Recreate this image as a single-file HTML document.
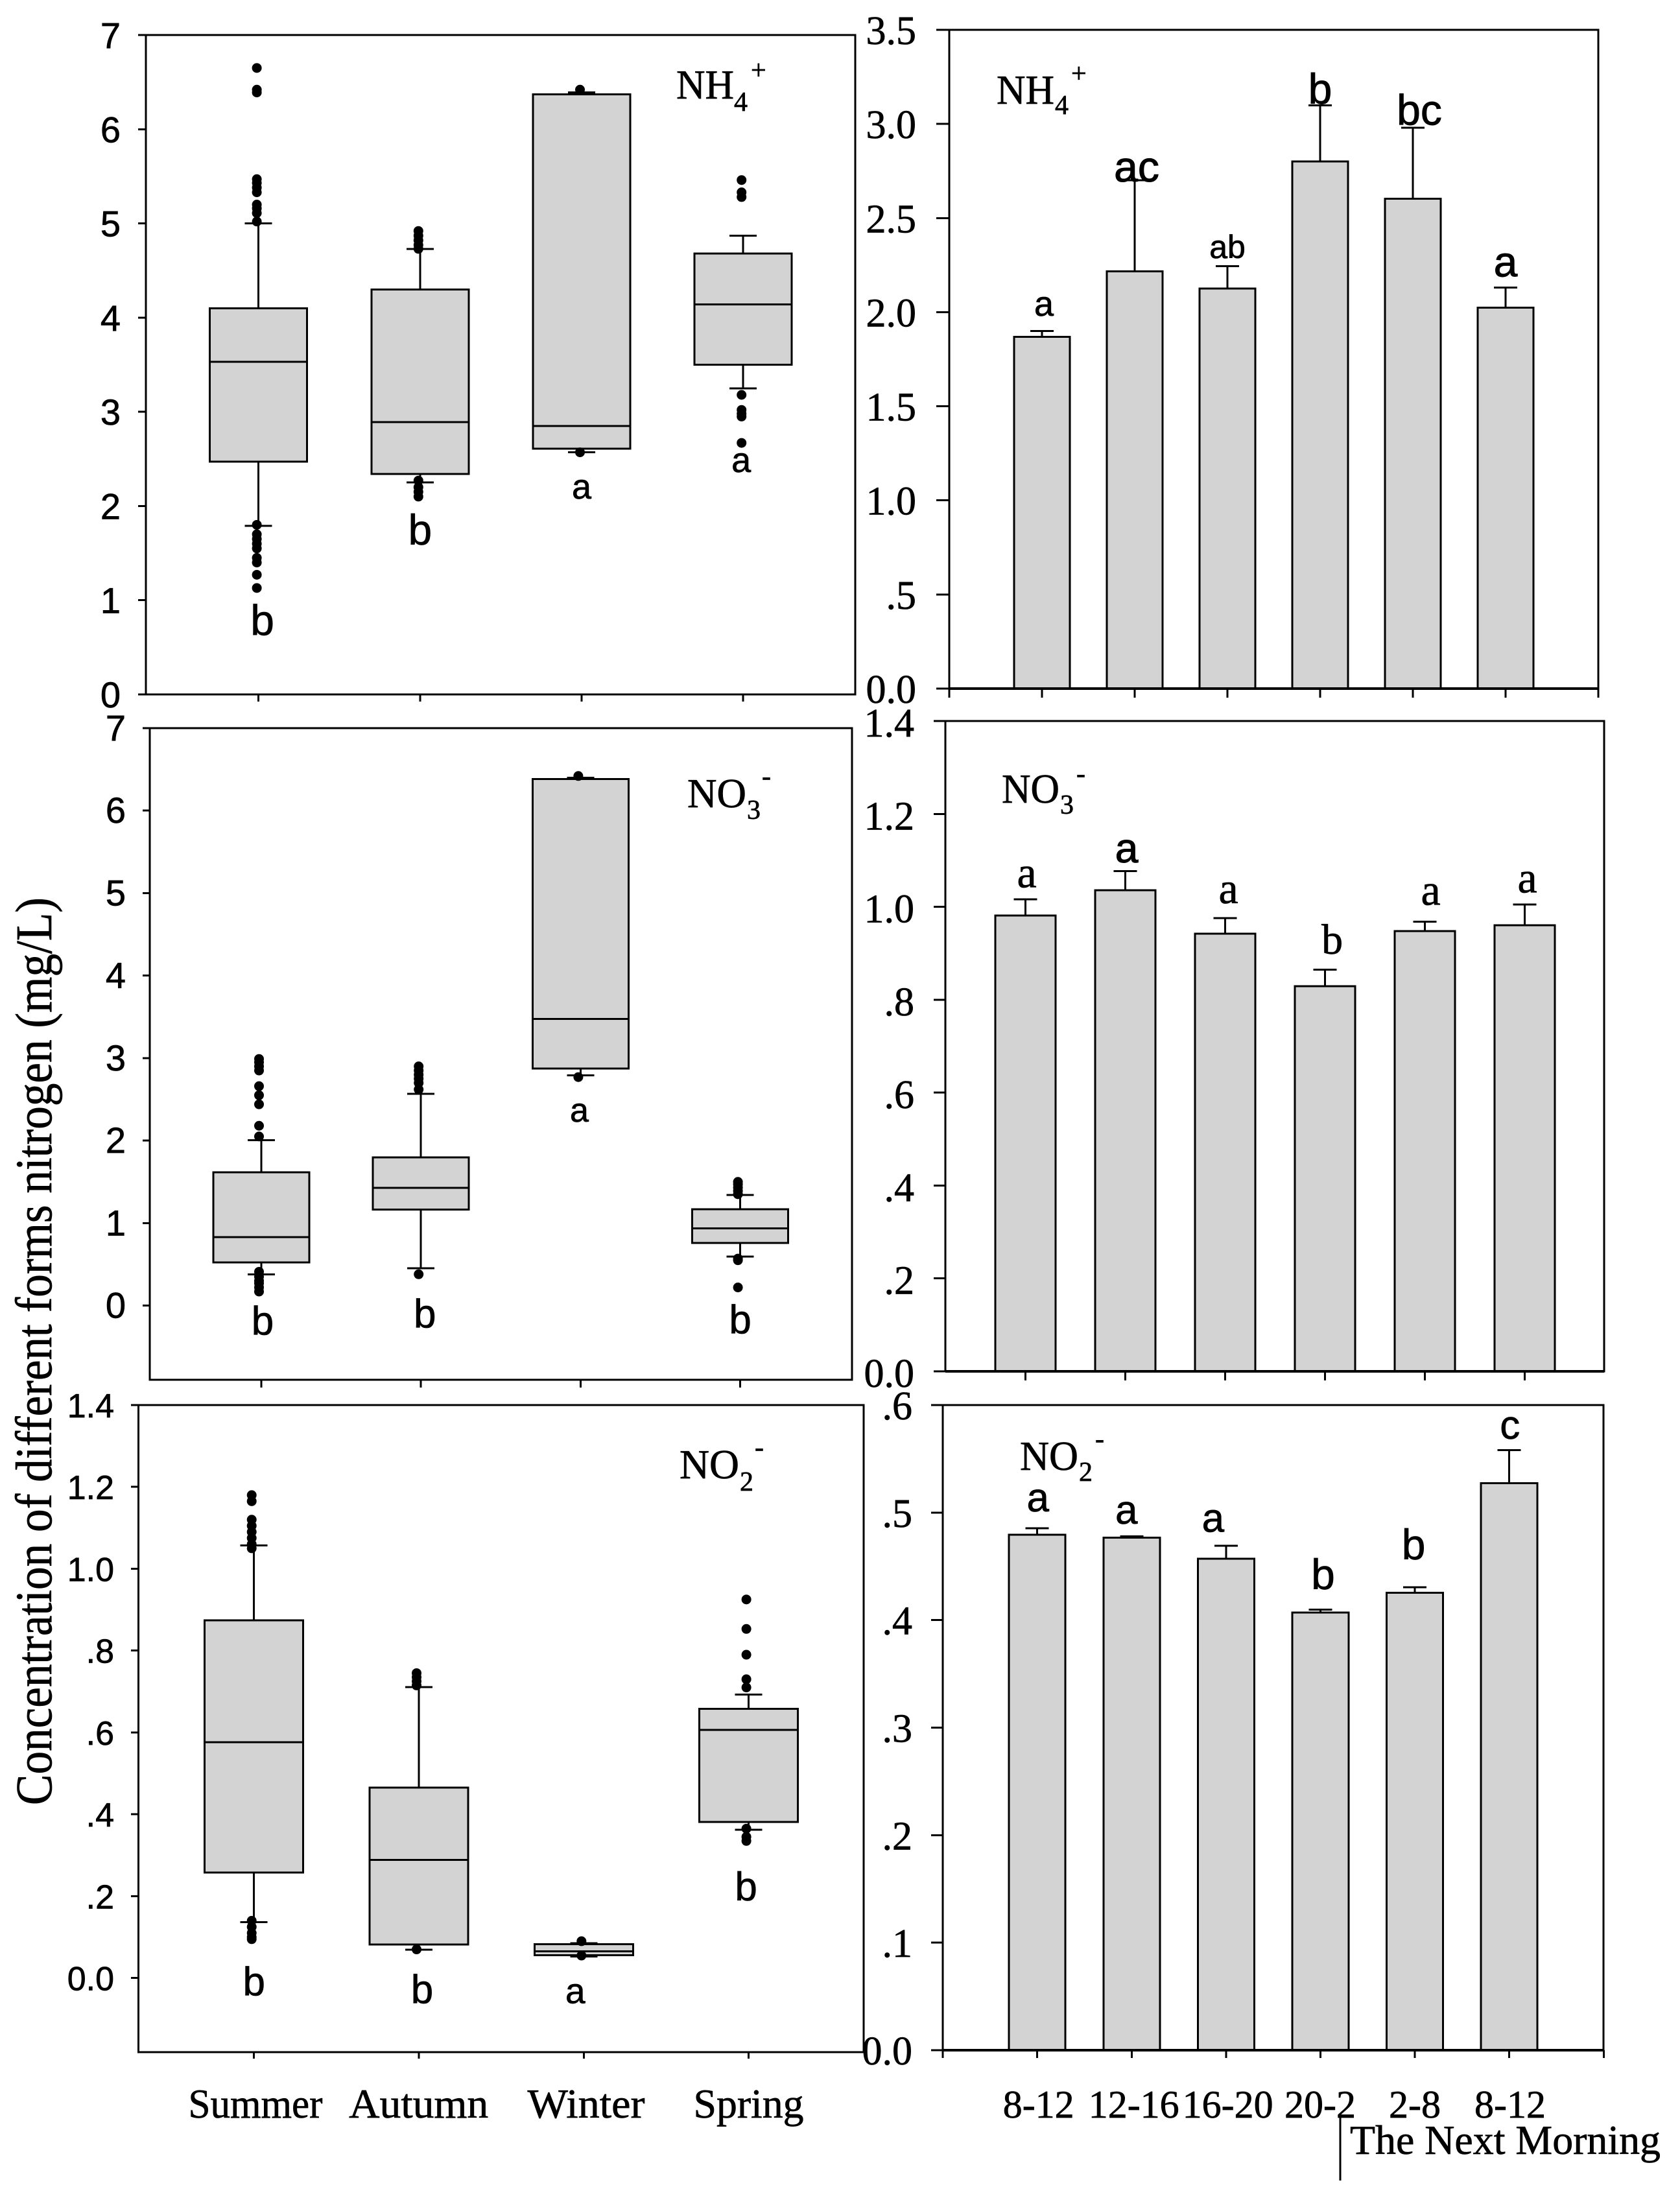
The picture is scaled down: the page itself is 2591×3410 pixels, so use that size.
<!DOCTYPE html>
<html lang="en">
<head>
<meta charset="utf-8">
<title>Concentration of different forms of nitrogen</title>
<style>
html,body{margin:0;padding:0;background:#fff;width:2591px;height:3410px;overflow:hidden}
svg{display:block}
.serif{font-family:"Liberation Serif",serif}
.sans{font-family:"Liberation Sans",sans-serif}
text{fill:#000;stroke:#000;stroke-width:0.7px}
</style>
</head>
<body>
<svg id="figure" xmlns="http://www.w3.org/2000/svg" width="2591" height="3410" viewBox="0 0 2591 3410">
<rect x="0" y="0" width="2591" height="3410" fill="#fff"/>
<text class="serif" font-size="79" transform="translate(79,2784) rotate(-90)" textLength="1400" lengthAdjust="spacingAndGlyphs">Concentration of different forms nitrogen (mg/L)</text>

<g class="serif">
<text font-size="64" x="1043" y="152" textLength="89" lengthAdjust="spacingAndGlyphs">NH</text><text font-size="42" x="1132" y="171">4</text><text font-size="42" x="1158" y="122">+</text>
</g>
<g class="serif">
<text font-size="64" x="1537" y="160" textLength="89" lengthAdjust="spacingAndGlyphs">NH</text><text font-size="42" x="1627" y="176">4</text><text font-size="42" x="1652" y="127">+</text>
</g>
<g class="serif">
<text font-size="64" x="1060" y="1245" textLength="91" lengthAdjust="spacingAndGlyphs">NO</text><text font-size="42" x="1152" y="1263">3</text><text font-size="42" x="1175" y="1211">-</text>
</g>
<g class="serif">
<text font-size="64" x="1545" y="1238" textLength="89" lengthAdjust="spacingAndGlyphs">NO</text><text font-size="42" x="1635" y="1255">3</text><text font-size="42" x="1660" y="1207">-</text>
</g>
<g class="serif">
<text font-size="64" x="1048" y="2280" textLength="92" lengthAdjust="spacingAndGlyphs">NO</text><text font-size="42" x="1141" y="2299">2</text><text font-size="42" x="1164" y="2246">-</text>
</g>
<g class="serif">
<text font-size="64" x="1573" y="2267" textLength="90" lengthAdjust="spacingAndGlyphs">NO</text><text font-size="42" x="1664" y="2284">2</text><text font-size="42" x="1689" y="2233">-</text>
</g>

<line x1="2067" y1="3264" x2="2067" y2="3363" stroke="#000" stroke-width="3"/>
<text class="serif" font-size="64" x="2082" y="3322" textLength="479" lengthAdjust="spacingAndGlyphs">The Next Morning</text>
</svg>

<script>
// ---------- categories and tick labels ----------
const seasons = ['Summer', 'Autumn', 'Winter', 'Spring'];
const hourWindows = ['8-12', '12-16', '16-20', '20-2', '2-8', '8-12'];

const seasonTicksNH4 = [0, 1, 2, 3, 4, 5, 6, 7];
const seasonTickLabelsNH4 = ['0', '1', '2', '3', '4', '5', '6', '7'];
const seasonTicksNO3 = [0, 1, 2, 3, 4, 5, 6, 7];
const seasonTickLabelsNO3 = ['0', '1', '2', '3', '4', '5', '6', '7'];
const seasonTicksNO2 = [0, 0.2, 0.4, 0.6, 0.8, 1.0, 1.2, 1.4];
const seasonTickLabelsNO2 = ['0.0', '.2', '.4', '.6', '.8', '1.0', '1.2', '1.4'];
const hourTicksNH4 = [0, 0.5, 1, 1.5, 2, 2.5, 3, 3.5];
const hourTickLabelsNH4 = ['0.0', '.5', '1.0', '1.5', '2.0', '2.5', '3.0', '3.5'];
const hourTicksNO3 = [0, 0.2, 0.4, 0.6, 0.8, 1.0, 1.2, 1.4];
const hourTickLabelsNO3 = ['0.0', '.2', '.4', '.6', '.8', '1.0', '1.2', '1.4'];
const hourTicksNO2 = [0, 0.1, 0.2, 0.3, 0.4, 0.5, 0.6];
const hourTickLabelsNO2 = ['0.0', '.1', '.2', '.3', '.4', '.5', '.6'];

// ---------- NH4 by season ----------
const nh4Q1 = [2.47, 2.34, 2.61, 3.50];
const nh4Median = [3.53, 2.89, 2.85, 4.14];
const nh4Q3 = [4.10, 4.30, 6.37, 4.68];
const nh4WhiskerLow = [1.79, 2.25, 2.57, 3.25];
const nh4WhiskerHigh = [5.00, 4.73, 6.39, 4.87];
const nh4OutliersSummer = [6.65, 6.42, 6.39, 5.47, 5.43, 5.38, 5.33, 5.2, 5.16, 5.11, 5.02, 1.8, 1.7, 1.65, 1.6, 1.55, 1.45, 1.4, 1.27, 1.13];
const nh4OutliersAutumn = [4.92, 4.87, 4.82, 4.77, 4.73, 2.27, 2.2, 2.15, 2.1];
const nh4OutliersWinter = [6.42, 2.57];
const nh4OutliersSpring = [5.46, 5.33, 5.28, 3.18, 3.02, 2.98, 2.95, 2.67];
const nh4SeasonLetters = ['b', 'b', 'a', 'a'];
const nh4SeasonLetterAt = [0.63, 1.59, 2.08, 2.36];

// ---------- NO3 by season ----------
const no3Q1 = [0.524, 1.163, 2.872, 0.761];
const no3Median = [0.832, 1.428, 3.473, 0.937];
const no3Q3 = [1.615, 1.797, 6.384, 1.169];
const no3WhiskerLow = [0.38, 0.452, 2.79, 0.595];
const no3WhiskerHigh = [2.007, 2.569, 6.40, 1.34];
const no3OutliersSummer = [2.99, 2.95, 2.9, 2.85, 2.66, 2.55, 2.44, 2.18, 2.05, 0.41, 0.35, 0.3, 0.27, 0.22, 0.17];
const no3OutliersAutumn = [2.9, 2.85, 2.8, 2.75, 2.7, 2.62, 0.38];
const no3OutliersWinter = [6.42, 2.77];
const no3OutliersSpring = [1.5, 1.47, 1.43, 1.39, 1.35, 0.57, 0.55, 0.22];
const no3SeasonLetters = ['b', 'b', 'a', 'b'];
const no3SeasonLetterAt = [-0.354, -0.267, 2.23, -0.338];

// ---------- NO2 by season ----------
const no2Q1 = [0.258, 0.082, 0.056, 0.381];
const no2Median = [0.576, 0.289, 0.065, 0.606];
const no2Q3 = [0.874, 0.465, 0.083, 0.658];
const no2WhiskerLow = [0.137, 0.069, 0.053, 0.362];
const no2WhiskerHigh = [1.057, 0.711, 0.085, 0.693];
const no2OutliersSummer = [1.18, 1.165, 1.12, 1.105, 1.09, 1.075, 1.06, 1.05, 0.14, 0.125, 0.11, 0.1, 0.095];
const no2OutliersAutumn = [0.745, 0.735, 0.725, 0.715, 0.07];
const no2OutliersWinter = [0.09, 0.055];
const no2OutliersSpring = [0.925, 0.853, 0.79, 0.73, 0.71, 0.365, 0.345, 0.335];
const no2SeasonLetters = ['b', 'b', 'a', 'b'];
const no2SeasonLetterAt = [-0.042, -0.061, -0.061, 0.19];

// ---------- hourly means ----------
const nh4HourMeans = [1.868, 2.216, 2.125, 2.80, 2.603, 2.024];
const nh4HourErrorTop = [1.90, 2.70, 2.244, 3.098, 2.98, 2.13];
const nh4HourLetters = ['a', 'ac', 'ab', 'b', 'bc', 'a'];
const nh4HourLetterAt = [1.981, 2.694, 2.287, 3.108, 2.995, 2.189];

const no3HourMeans = [0.981, 1.036, 0.942, 0.829, 0.948, 0.960];
const no3HourErrorTop = [1.016, 1.077, 0.976, 0.8645, 0.968, 1.005];
const no3HourLetters = ['a', 'a', 'a', 'b', 'a', 'a'];
const no3HourLetterAt = [1.0417, 1.096, 1.008, 0.899, 1.004, 1.031];

const no2HourMeans = [0.4795, 0.4766, 0.457, 0.407, 0.4253, 0.5273];
const no2HourErrorTop = [0.4854, 0.478, 0.469, 0.4097, 0.4307, 0.558];
const no2HourLetters = ['a', 'a', 'a', 'b', 'b', 'c'];
const no2HourLetterAt = [0.501, 0.4895, 0.482, 0.4286, 0.4564, 0.5685];

// ---------- rendering ----------
const SVG_NS = 'http://www.w3.org/2000/svg';
const figure = document.getElementById('figure');

function make(tag, parent, props) {
  const el = document.createElementNS(SVG_NS, tag);
  for (const key in props) el.setAttribute(key, props[key]);
  parent.appendChild(el);
  return el;
}
function segment(parent, x1, y1, x2, y2, width) {
  return make('line', parent, { x1: x1, y1: y1, x2: x2, y2: y2, stroke: '#000', 'stroke-width': width || 3, 'shape-rendering': 'crispEdges' });
}
function label(parent, str, x, y, size, family, anchor) {
  const el = make('text', parent, { x: x, y: y, 'font-size': size, 'text-anchor': anchor || 'middle', class: family });
  el.textContent = str;
  return el;
}

function panelGroup(p) {
  const g = make('g', figure, {});
  
  
  return g;
}
function yScale(p) {
  return function (v) { return p.bottom - (v - p.yMin) / (p.yMax - p.yMin) * (p.bottom - p.top); };
}
function xScale(p) {
  return function (i) { return p.xFirst + i * p.xStep; };
}

function drawFrame(g, p, ticks, tickLabels, xTickCount, xTickStart) {
  const y = yScale(p), x = xScale(p);
  const frame = make('rect', g, { x: p.left, y: p.top, width: p.right - p.left, height: p.bottom - p.top, fill: 'none', stroke: '#000', 'stroke-width': 3, 'shape-rendering': 'crispEdges' });
  
  
  ticks.forEach(function (t, i) {
    const tick = segment(g, p.tickLeft, y(t), p.left, y(t));
    
    
    const text = label(g, tickLabels[i], p.labelRight, y(t) + p.labelDrop, p.labelSize, p.labelFamily, 'end');
    
    
  });
  for (let i = 0; i < xTickCount; i++) {
    const tx = x(i + xTickStart);
    const tick = segment(g, tx, p.bottom, tx, p.tickBottom);
    
    
  }
}

function drawLetters(g, p, letters, at) {
  const y = yScale(p), x = xScale(p);
  letters.forEach(function (str, i) {
    const s = p.letters[i];
    const text = label(g, str, x(i) + s.dx, y(at[i]), s.size, s.family || 'sans');
    if (s.heavy) { text.style.strokeWidth = s.heavy + 'px'; }
    
    
  });
}

function drawBoxes(p, d) {
  const g = panelGroup(p);
  const y = yScale(p), x = xScale(p);
  drawFrame(g, p, d.ticks, d.tickLabels, d.q1.length, 0);
  d.q1.forEach(function (_, i) {
    const cx = x(i);
    const low = segment(g, cx, y(d.q1[i]), cx, y(d.low[i]));
    
    
    const high = segment(g, cx, y(d.q3[i]), cx, y(d.high[i]));
    
    
    const lowCap = segment(g, cx - 21, y(d.low[i]), cx + 21, y(d.low[i]));
    
    
    const highCap = segment(g, cx - 21, y(d.high[i]), cx + 21, y(d.high[i]));
    
    
    const box = make('rect', g, { x: cx - p.boxWidth / 2, y: y(d.q3[i]), width: p.boxWidth, height: y(d.q1[i]) - y(d.q3[i]), fill: '#d3d3d3', stroke: '#000', 'stroke-width': 3, 'shape-rendering': 'crispEdges' });
    
    
    const med = segment(g, cx - p.boxWidth / 2, y(d.median[i]), cx + p.boxWidth / 2, y(d.median[i]));
    
    
    d.outliers[i].forEach(function (v) {
      const dot = make('circle', g, { cx: cx + p.dotDx, cy: y(v), r: 7.5, fill: '#000' });
      
      
    });
  });
  drawLetters(g, p, d.letters, d.letterAt);
}

function drawBars(p, d) {
  const g = panelGroup(p);
  const y = yScale(p), x = xScale(p);
  const extra = p.endTicks ? 2 : 0;
  drawFrame(g, p, d.ticks, d.tickLabels, d.means.length + extra, p.endTicks ? -1 : 0);
  d.means.forEach(function (v, i) {
    const cx = x(i);
    const err = segment(g, cx, y(v), cx, y(d.errorTop[i]));
    
    
    const cap = segment(g, cx - 18, y(d.errorTop[i]), cx + 18, y(d.errorTop[i]));
    
    
    const bar = make('rect', g, { x: cx - p.barWidth / 2, y: y(v), width: p.barWidth, height: y(0) - y(v), fill: '#d3d3d3', stroke: '#000', 'stroke-width': 3, 'shape-rendering': 'crispEdges' });
    
    
  });
  const base = segment(g, p.left, p.bottom, p.right, p.bottom, 4);
  
  
  drawLetters(g, p, d.letters, d.letterAt);
  return g;
}

function L(size, dx, family, heavy) { return { size: size, dx: dx, family: family, heavy: heavy }; }

drawBoxes({
  name: 'nh4-season-panel', left: 225, right: 1319, top: 54, bottom: 1071, yMin: 0, yMax: 7,
  xFirst: 398.6, xStep: 249.2, boxWidth: 150, dotDx: -2.5, tickLeft: 213, tickBottom: 1082,
  labelRight: 186, labelDrop: 20, labelSize: 56, labelFamily: 'sans',
  letters: [L(66, 6), L(66, 0), L(54, 0), L(54, -3)]
}, { ticks: seasonTicksNH4, tickLabels: seasonTickLabelsNH4, q1: nh4Q1, median: nh4Median, q3: nh4Q3, low: nh4WhiskerLow, high: nh4WhiskerHigh,
  outliers: [nh4OutliersSummer, nh4OutliersAutumn, nh4OutliersWinter, nh4OutliersSpring], letters: nh4SeasonLetters, letterAt: nh4SeasonLetterAt });

drawBoxes({
  name: 'no3-season-panel', left: 231, right: 1314, top: 1123, bottom: 2128, yMin: -0.899, yMax: 7,
  xFirst: 403, xStep: 246.2, boxWidth: 148, dotDx: -3.5, tickLeft: 220, tickBottom: 2140,
  labelRight: 194, labelDrop: 19, labelSize: 56, labelFamily: 'sans',
  letters: [L(62, 2), L(62, 6), L(52, -2), L(62, 0)]
}, { ticks: seasonTicksNO3, tickLabels: seasonTickLabelsNO3, q1: no3Q1, median: no3Median, q3: no3Q3, low: no3WhiskerLow, high: no3WhiskerHigh,
  outliers: [no3OutliersSummer, no3OutliersAutumn, no3OutliersWinter, no3OutliersSpring], letters: no3SeasonLetters, letterAt: no3SeasonLetterAt });

drawBoxes({
  name: 'no2-season-panel', left: 213.5, right: 1332, top: 2167, bottom: 3165, yMin: -0.181, yMax: 1.4,
  xFirst: 391.7, xStep: 254.3, boxWidth: 152, dotDx: -3.5, tickLeft: 202, tickBottom: 3175,
  labelRight: 176, labelDrop: 19, labelSize: 52, labelFamily: 'sans',
  letters: [L(62, 0), L(62, 5), L(55, -13), L(62, -4)]
}, { ticks: seasonTicksNO2, tickLabels: seasonTickLabelsNO2, q1: no2Q1, median: no2Median, q3: no2Q3, low: no2WhiskerLow, high: no2WhiskerHigh,
  outliers: [no2OutliersSummer, no2OutliersAutumn, no2OutliersWinter, no2OutliersSpring], letters: no2SeasonLetters, letterAt: no2SeasonLetterAt });

drawBars({
  name: 'nh4-hour-panel', left: 1464, right: 2465, top: 46, bottom: 1062, yMin: 0, yMax: 3.5,
  xFirst: 1607, xStep: 143, barWidth: 86, endTicks: true, tickLeft: 1444, tickBottom: 1076,
  labelRight: 1413, labelDrop: 22, labelSize: 62, labelFamily: 'serif',
  letters: [L(54, 3), L(66, 3, 'sans', 1.1), L(50, 0), L(66, 0, 'sans', 0.9), L(66, 10, 'sans', 0.9), L(66, 0, 'sans', 0.9)]
}, { ticks: hourTicksNH4, tickLabels: hourTickLabelsNH4, means: nh4HourMeans, errorTop: nh4HourErrorTop, letters: nh4HourLetters, letterAt: nh4HourLetterAt });

drawBars({
  name: 'no3-hour-panel', left: 1458, right: 2474, top: 1112, bottom: 2115, yMin: 0, yMax: 1.4,
  xFirst: 1581.6, xStep: 154, barWidth: 93, endTicks: false, tickLeft: 1440, tickBottom: 2129,
  labelRight: 1410, labelDrop: 24, labelSize: 62, labelFamily: 'serif',
  letters: [L(68, 2, 'serif'), L(64, 2, 'sans', 1.1), L(68, 5, 'serif'), L(66, 11, 'serif'), L(68, 9, 'serif'), L(68, 4, 'serif')]
}, { ticks: hourTicksNO3, tickLabels: hourTickLabelsNO3, means: no3HourMeans, errorTop: no3HourErrorTop, letters: no3HourLetters, letterAt: no3HourLetterAt });

drawBars({
  name: 'no2-hour-panel', left: 1454, right: 2473, top: 2167, bottom: 3162, yMin: 0, yMax: 0.6,
  xFirst: 1599.7, xStep: 145.6, barWidth: 87, endTicks: true, tickLeft: 1436, tickBottom: 3174,
  labelRight: 1407, labelDrop: 22, labelSize: 62, labelFamily: 'serif',
  letters: [L(62, 1), L(62, -8), L(62, -20), L(66, 4), L(66, -2), L(62, 1)]
}, { ticks: hourTicksNO2, tickLabels: hourTickLabelsNO2, means: no2HourMeans, errorTop: no2HourErrorTop, letters: no2HourLetters, letterAt: no2HourLetterAt });

// ---------- category labels ----------
const seasonLabelLayout = [{ x: 394, w: 207 }, { x: 645.7, w: 215 }, { x: 904, w: 181 }, { x: 1154.5, w: 170 }];
seasons.forEach(function (name, i) {
  const text = label(figure, name, seasonLabelLayout[i].x, 3266, 64, 'serif');
  text.setAttribute('textLength', seasonLabelLayout[i].w);
  text.setAttribute('lengthAdjust', 'spacingAndGlyphs');
  
  
});
const hourLabelLayout = [1601.7, 1748.7, 1893.6, 2036, 2182, 2329];
hourWindows.forEach(function (name, i) {
  const text = label(figure, name, hourLabelLayout[i], 3266, 60, 'serif');
  
  
});
</script>
</body>
</html>
